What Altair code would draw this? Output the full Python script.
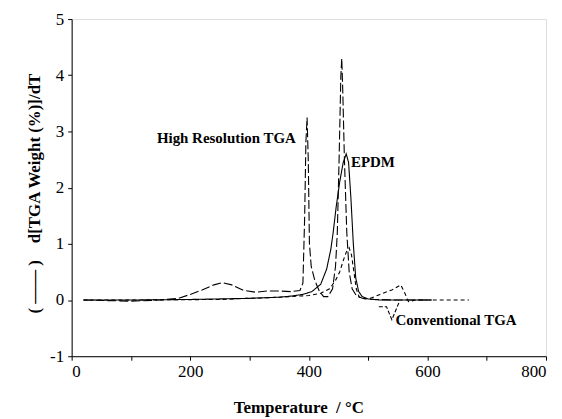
import altair as alt
import pandas as pd

# High Resolution TGA derivative (long dashes)
hr_T = [20, 100, 150, 180, 200, 220, 240, 254, 270, 290, 310, 330, 350, 370, 385, 390, 393, 395, 397, 399, 401, 404, 410, 418, 425, 432, 440, 445, 448, 451, 454, 455.5, 457, 460, 464, 468, 473, 480, 490, 510, 550, 607]
hr_V = [0.0, -0.02, 0.0, 0.03, 0.1, 0.18, 0.27, 0.31, 0.27, 0.17, 0.14, 0.16, 0.16, 0.15, 0.17, 0.3, 1.5, 2.8, 3.25, 2.5, 1.0, 0.6, 0.35, 0.15, 0.06, 0.06, 0.2, 0.6, 1.2, 2.5, 4.0, 4.3, 3.8, 2.5, 1.2, 0.5, 0.2, 0.08, 0.03, 0.01, 0.0, 0.0]

# EPDM (solid)
ep_T = [20, 100, 200, 300, 350, 370, 390, 405, 420, 430, 437, 441, 446, 452, 458, 463, 467, 471, 475, 479, 484, 490, 500, 520, 607]
ep_V = [0.0, 0.0, 0.01, 0.03, 0.05, 0.07, 0.1, 0.15, 0.28, 0.55, 0.9, 1.2, 1.65, 2.1, 2.45, 2.6, 2.45, 1.8, 1.0, 0.4, 0.15, 0.06, 0.02, 0.0, 0.0]

# Conventional TGA (short dashes)
cv_T = [20, 100, 250, 300, 350, 400, 420, 435, 445, 452, 458, 463, 468, 472, 476, 480, 485, 495, 506, 520, 540, 555, 562, 568, 580, 600, 670]
cv_V = [0.0, 0.0, 0.01, 0.03, 0.05, 0.08, 0.12, 0.2, 0.35, 0.5, 0.7, 0.85, 0.93, 0.8, 0.5, 0.2, 0.05, 0.02, 0.04, 0.1, 0.18, 0.27, 0.12, -0.03, 0.0, 0.0, 0.0]

# leader line for "Conventional TGA"
ld_T = [518, 531, 540, 553]
ld_V = [-0.12, -0.12, -0.35, -0.02]

# annotations
lab_text = ["High Resolution TGA", "EPDM", "Conventional TGA"]
lab_T = [378, 471, 546]
lab_V = [2.88, 2.45, -0.35]
lab_align = ["right", "left", "left"]

FONT = "Liberation Serif"
NB = "\u00a0"

xs = alt.Scale(domain=[0, 800], nice=False)
ys = alt.Scale(domain=[-1, 5], nice=False)

x_axis = alt.Axis(
    title="Temperature" + NB * 2 + "/" + NB + "°C",
    values=list(range(0, 801, 100)),
    labelExpr="datum.value % 200 == 0 ? '' + datum.value : ''",
    grid=False, tickSize=4, labelPadding=3, labelFontSize=17, labelFont=FONT,
    labelColor="black", tickColor="black", domainColor="black",
    titleFont=FONT, titleFontSize=17, titleFontWeight="bold", titleColor="black",
    titleX=228, titleY=52, titleBaseline="middle",
)
y_axis = alt.Axis(
    title="(" + NB + "——" + NB + ")" + NB * 4 + "d[TGA Weight (%)]/dT",
    values=[-1, -0.5, 0, 0.5, 1, 1.5, 2, 2.5, 3, 3.5, 4, 4.5, 5],
    labelExpr="datum.value % 1 == 0 ? '' + datum.value : ''",
    grid=False, tickSize=4, labelPadding=4, labelFontSize=17, labelFont=FONT,
    labelColor="black", tickColor="black", domainColor="black",
    titleFont=FONT, titleFontSize=17, titleFontWeight="bold", titleColor="black",
    titleX=-37, titleY=175, titleBaseline="middle", titleAngle=-90,
)

def line(T, V, dash):
    df = pd.DataFrame({"T": T, "V": V})
    return alt.Chart(df).mark_line(color="black", strokeWidth=1.1, strokeDash=dash).encode(
        x=alt.X("T:Q", scale=xs, axis=x_axis),
        y=alt.Y("V:Q", scale=ys, axis=y_axis),
    )

hr = line(hr_T, hr_V, [9, 3])
ep = line(ep_T, ep_V, [1, 0])
cv = line(cv_T, cv_V, [4, 3])
ld = line(ld_T, ld_V, [4, 2])

lab_df = pd.DataFrame({"t": lab_text, "T": lab_T, "V": lab_V, "a": lab_align})
texts = []
for i in range(len(lab_text)):
    sub = lab_df.iloc[[i]]
    texts.append(
        alt.Chart(sub).mark_text(font=FONT, fontSize=15, fontWeight="bold", color="black",
                                 align=lab_align[i], baseline="middle").encode(
            x=alt.X("T:Q", scale=xs), y=alt.Y("V:Q", scale=ys), text="t:N")
    )

chart = alt.layer(ep, hr, cv, ld, *texts).properties(
    width=477, height=339,
    autosize=alt.AutoSizeParams(type="none"),
    padding={"left": 64, "top": 10, "right": 8, "bottom": 62},
).configure_view(stroke="black", strokeWidth=1.2).configure(
    background="white", font=FONT
).configure_axis(labelFont=FONT, titleFont=FONT)

chart.save("out.html", embed_options={"renderer": "svg", "actions": False})
